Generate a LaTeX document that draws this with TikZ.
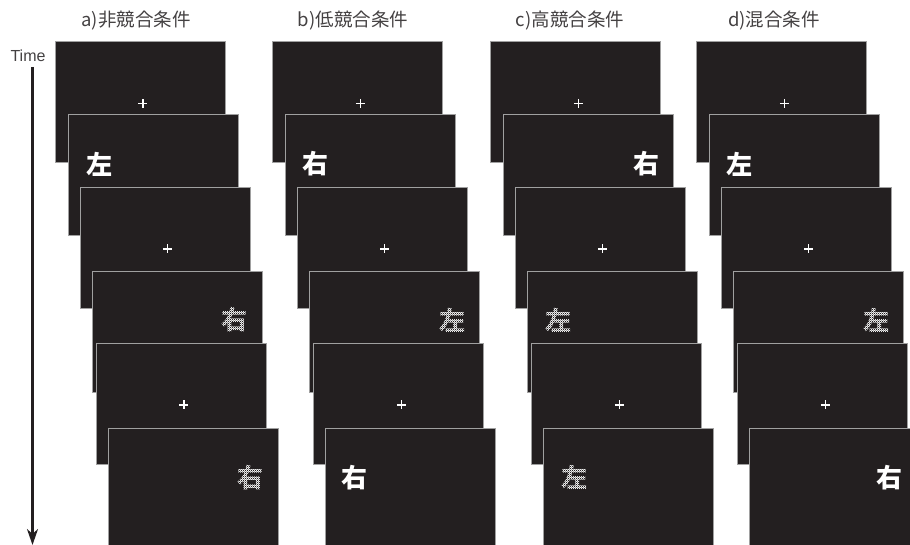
\documentclass[tikz,border=0pt]{standalone}
\usepackage{fontspec}
\newfontfamily\cjk{Noto Sans CJK JP}
\setsansfont{Liberation Sans}
\usetikzlibrary{arrows.meta,patterns,calc}

\definecolor{scr}{HTML}{231F20}
\definecolor{edgegray}{HTML}{A0A0A0}
\definecolor{ink}{HTML}{231F20}

\pgfdeclarepatternformonly{finechecker}{\pgfpointorigin}{\pgfqpoint{2.2pt}{2.2pt}}{\pgfqpoint{2.2pt}{2.2pt}}{%
  \pgfpathrectangle{\pgfpointorigin}{\pgfqpoint{1.1pt}{1.1pt}}%
  \pgfpathrectangle{\pgfqpoint{1.1pt}{1.1pt}}{\pgfqpoint{1.1pt}{1.1pt}}%
  \pgfusepath{fill}}

\tikzset{
  screen/.style={fill=scr, draw=edgegray, line width=0.9pt, minimum width=170pt, minimum height=121pt, inner sep=0pt, anchor=north west},
  glyph/.style={font=\cjk\bfseries\fontsize{26}{26}\selectfont, text=white, inner sep=1pt},
  checkfill/.style={pattern=finechecker, pattern color=scr},
  title/.style={font=\cjk\fontsize{18.5}{18.5}\selectfont, text=ink!85, inner sep=0pt},
  fixcross/.pic={\draw[white, line width=1.3pt] (-4.5,0) -- (4.5,0) (0,-4.5) -- (0,4.5);},
  timearrow/.style={draw=ink, line width=2.3pt, -{Stealth[length=16pt,width=11pt,inset=5pt]}}
}

\begin{document}
\begin{tikzpicture}[x=1pt,y=-1pt]
\useasboundingbox (0,0) rectangle (910,545);
\clip (0,0) rectangle (910,545);

% titles
\node[title] (ta) at (136,21) {a)非競合条件};
\node[title] (tb) at (353,21) {b)低競合条件};
\node[title] (tc) at (570,21) {c)高競合条件};
\node[title] (td) at (774,21) {d)混合条件};

% time axis
\node[font=\sffamily\fontsize{16}{16}\selectfont, text=ink!85, inner sep=0pt] (time) at (28,56) {Time};
\coordinate (t0) at (32.5,67);
\coordinate (t1) at (32.5,545);
\draw[timearrow] (t0) -- (t1);

% screens
\foreach \p/\L in {a/55, b/272.3, c/490.3, d/696.3} {
  \foreach \i/\dx/\y in {1/0/41.5, 2/12.5/114, 3/24.5/187, 4/37/271, 5/41/343, 6/53/427.7} {
    \node[screen] (\p\i) at (\L+\dx,\y) {};
  }
}

% fixation crosses
\foreach \p in {a,b,c,d} {
  \foreach \i in {1,3,5} {
    \pic at ($(\p\i.center)+(2.5,1)$) {fixcross};
  }
}

% panel a
\node[glyph] (ga2) at ($(a2.north west)+(32,50)$) {左};
\node[glyph] (ga4) at ($(a4.north east)+(-28,49)$) {右};
\node[glyph] (ga6) at ($(a6.north east)+(-28,50)$) {右};
% panel b
\node[glyph] (gb2) at ($(b2.north west)+(31,50)$) {右};
\node[glyph] (gb4) at ($(b4.north east)+(-28,49)$) {左};
\node[glyph] (gb6) at ($(b6.north west)+(29,50)$) {右};
% panel c
\node[glyph] (gc2) at ($(c2.north east)+(-27,50)$) {右};
\node[glyph] (gc4) at ($(c4.north west)+(31,49)$) {左};
\node[glyph] (gc6) at ($(c6.north west)+(31,50)$) {左};
% panel d
\node[glyph] (gd2) at ($(d2.north west)+(31,50)$) {左};
\node[glyph] (gd4) at ($(d4.north east)+(-28,49)$) {左};
\node[glyph] (gd6) at ($(d6.north east)+(-31,50)$) {右};

% checkered (degraded) characters
\foreach \g in {ga4,ga6,gb4,gc4,gc6,gd4} {
  \fill[checkfill] (\g.south west) rectangle (\g.north east);
}
\end{tikzpicture}
\end{document}
